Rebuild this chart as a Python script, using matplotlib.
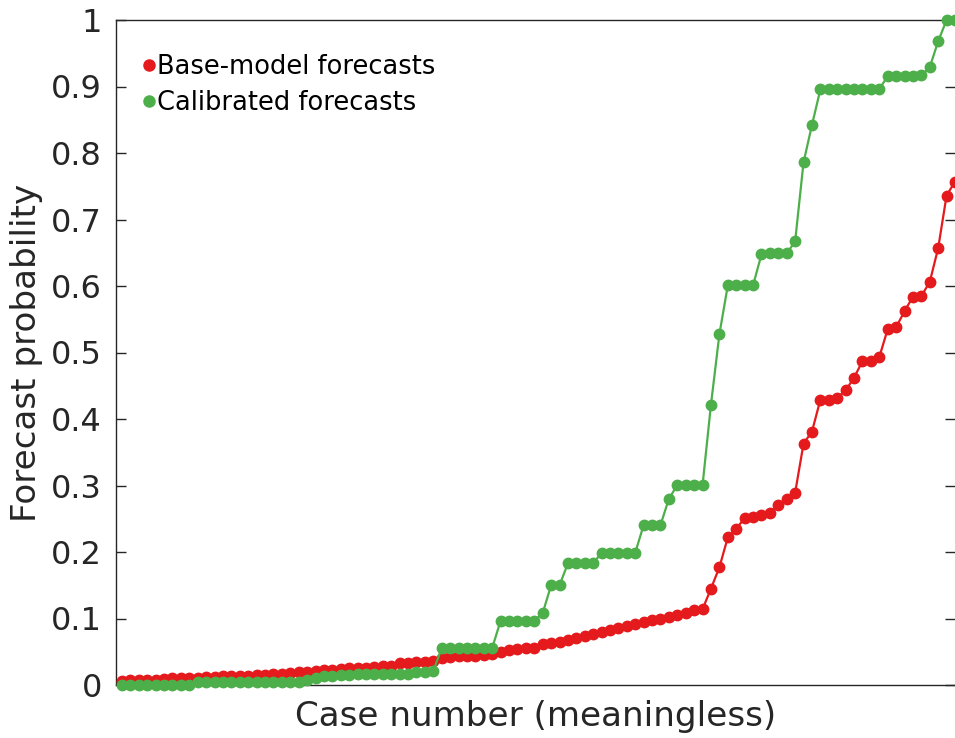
import matplotlib
matplotlib.use("Agg")
import matplotlib.pyplot as plt
from matplotlib.lines import Line2D
import numpy as np

# ---- data ----
base_model = [
    0.006, 0.007, 0.007, 0.008, 0.008, 0.009, 0.010, 0.010, 0.011, 0.011,
    0.012, 0.012, 0.013, 0.013, 0.014, 0.014, 0.015, 0.015, 0.016, 0.017,
    0.018, 0.019, 0.020, 0.021, 0.022, 0.023, 0.024, 0.025, 0.026, 0.026,
    0.027, 0.028, 0.029, 0.033, 0.033, 0.034, 0.035, 0.036, 0.041, 0.042,
    0.043, 0.044, 0.044, 0.045, 0.046, 0.050, 0.053, 0.054, 0.055, 0.056,
    0.062, 0.063, 0.064, 0.068, 0.070, 0.073, 0.077, 0.079, 0.083, 0.085,
    0.088, 0.091, 0.094, 0.097, 0.099, 0.103, 0.105, 0.109, 0.113, 0.114,
    0.145, 0.177, 0.222, 0.235, 0.251, 0.252, 0.255, 0.259, 0.271, 0.279,
    0.289, 0.363, 0.381, 0.429, 0.429, 0.432, 0.443, 0.462, 0.487, 0.487,
    0.493, 0.535, 0.538, 0.562, 0.584, 0.585, 0.606, 0.657, 0.736, 0.757,
]
calibrated = [
    0.000, 0.000, 0.000, 0.000, 0.000, 0.000, 0.000, 0.000, 0.000, 0.004,
    0.004, 0.004, 0.004, 0.004, 0.004, 0.004, 0.004, 0.004, 0.004, 0.004,
    0.004, 0.004, 0.008, 0.010, 0.013, 0.014, 0.015, 0.015, 0.016, 0.016,
    0.016, 0.016, 0.016, 0.016, 0.016, 0.020, 0.020, 0.021, 0.0556, 0.0556,
    0.0556, 0.0556, 0.0556, 0.0556, 0.0556, 0.0967, 0.0967, 0.0967, 0.0967, 0.0967,
    0.108, 0.150, 0.150, 0.183, 0.183, 0.183, 0.183, 0.199, 0.199, 0.199,
    0.199, 0.199, 0.2406, 0.2406, 0.2406, 0.280, 0.3008, 0.3008, 0.3008, 0.3008,
    0.4218, 0.5275, 0.601, 0.601, 0.601, 0.601, 0.6475, 0.649, 0.649, 0.649,
    0.667, 0.786, 0.842, 0.8955, 0.8955, 0.8955, 0.896, 0.896, 0.896, 0.896,
    0.896, 0.9155, 0.9155, 0.9155, 0.9155, 0.917, 0.929, 0.968, 1.000, 1.000,
]
case_number = np.arange(1, len(base_model) + 1)
series_labels = ["Base-model forecasts", "Calibrated forecasts"]
yticks = [0, 0.1, 0.2, 0.3, 0.4, 0.5, 0.6, 0.7, 0.8, 0.9, 1]
ytick_labels = ["0", "0.1", "0.2", "0.3", "0.4", "0.5", "0.6", "0.7", "0.8", "0.9", "1"]

RED = "#E41A1C"
GREEN = "#4DAF4A"
AXC = "#262626"

plt.rcParams["font.family"] = ["DejaVu Sans"]

fig = plt.figure(figsize=(9.55, 7.38), dpi=100)
ax = fig.add_axes([116 / 955, 1 - 685 / 738, 1 - 116 / 955, (685 - 20) / 738])

ax.plot(case_number, base_model, color=RED, lw=1.6, marker="o", ms=7.5,
        mec=RED, mfc=RED, clip_on=False, zorder=3)
ax.plot(case_number, calibrated, color=GREEN, lw=1.6, marker="o", ms=7.5,
        mec=GREEN, mfc=GREEN, clip_on=False, zorder=4)

ax.set_xlim(0.29, 100)
ax.set_ylim(0, 1)
ax.set_xticks([])
ax.set_yticks(yticks)
ax.set_yticklabels(ytick_labels)
ax.tick_params(axis="y", direction="in", length=7, width=1, colors=AXC,
               labelsize=23, right=True, left=True, pad=10)
for s in ["left", "bottom", "top"]:
    ax.spines[s].set_color(AXC)
    ax.spines[s].set_linewidth(1.0)
ax.spines["right"].set_visible(False)

ax.set_xlabel("Case number (meaningless)", fontsize=24.6, color=AXC, labelpad=11)
ax.set_ylabel("Forecast probability", fontsize=24.6, color=AXC, labelpad=6)

handles = [
    Line2D([], [], ls="none", marker="o", ms=8, color=RED),
    Line2D([], [], ls="none", marker="o", ms=8, color=GREEN),
]
leg = ax.legend(handles, series_labels, loc="upper left", frameon=False,
                fontsize=18.5, handlelength=0.5, handletextpad=0.05,
                labelspacing=0.38, bbox_to_anchor=(0.02, 0.964),
                borderaxespad=0.0)

fig.savefig("out.png", dpi=100)
